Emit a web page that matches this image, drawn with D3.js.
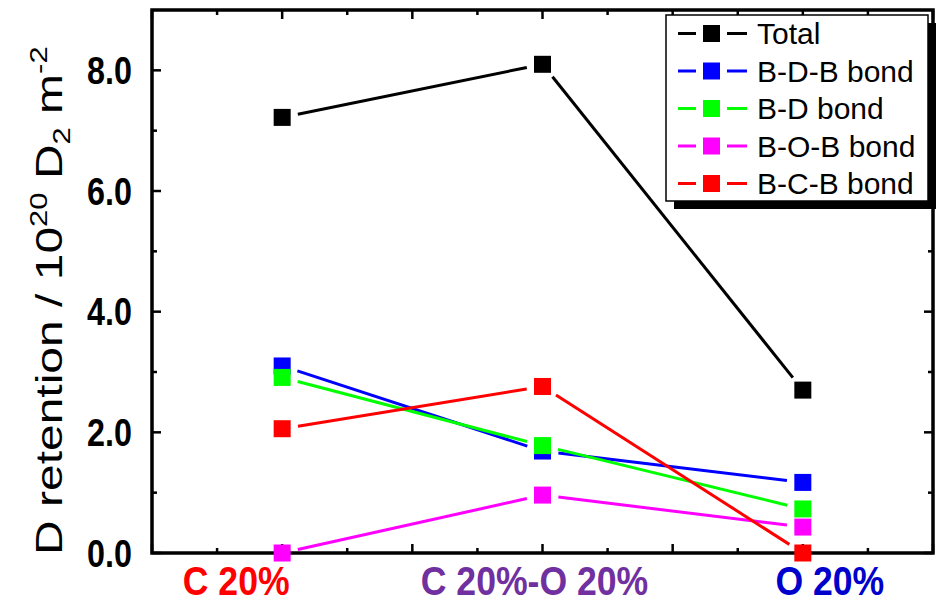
<!DOCTYPE html>
<html>
<head>
<meta charset="utf-8">
<script src="https://cdn.jsdelivr.net/npm/d3@7"></script>
<style>
  html, body { margin: 0; padding: 0; background: #fff; }
  svg { display: block; }
  text { font-family: "Liberation Sans", Arial, Helvetica, sans-serif; }
</style>
</head>
<body>
<svg id="chart" width="939" height="605"></svg>
<script>
// Sample categories and their positions on the numeric x axis
const categories = ["C 20%", "C 20%-O 20%", "O 20%"];
const categoryX = [1, 3, 5];
const categoryColors = ["#ff0000", "#7030a0", "#0000cc"];

// D retention (10^20 D2 m^-2) per series
const seriesNames = ["Total", "B-D-B bond", "B-D bond", "B-O-B bond", "B-C-B bond"];
const seriesColors = ["#000000", "#0000ff", "#00ff00", "#ff00ff", "#ff0000"];
const totalValues = [7.22, 8.10, 2.70];
const bdbValues = [3.10, 1.69, 1.17];
const bdValues = [2.91, 1.78, 0.73];
const bobValues = [0.00, 0.96, 0.43];
const bcbValues = [2.06, 2.76, 0.00];
const seriesValues = [totalValues, bdbValues, bdValues, bobValues, bcbValues];

// Axis tick labels
const yTickValues = [0, 2, 4, 6, 8];
const yTickLabels = ["0.0", "2.0", "4.0", "6.0", "8.0"];

// Layout
const frame = { left: 152, right: 933, top: 10, bottom: 553 };
const labelShift = [-46, -8, 27];   // horizontal nudge of category labels
const markerSize = 17;
const lineGap = 16;                  // distance from point centre where a segment stops

const svg = d3.select("#chart");
const x = d3.scaleLinear().domain([0, 6]).range([frame.left, frame.right]);
const y = d3.scaleLinear().domain([0, 9]).range([frame.bottom, frame.top]);

// Ticks (inward) on all four sides
const axW = 3.5;
const majorLen = 9, minorLen = 5;
const xMajor = d3.range(0, 6.01, 1), xMinor = d3.range(0.5, 6, 1);
const yMajor = d3.range(0, 9.01, 2), yMinor = d3.range(1, 9, 2);

const tickG = svg.append("g").attr("stroke", "#000").attr("stroke-width", 2.5);
function xTicks(vals, len) {
  vals.forEach(v => {
    tickG.append("line").attr("x1", x(v)).attr("x2", x(v))
      .attr("y1", frame.bottom).attr("y2", frame.bottom - len);
    tickG.append("line").attr("x1", x(v)).attr("x2", x(v))
      .attr("y1", frame.top).attr("y2", frame.top + len);
  });
}
function yTicks(vals, len) {
  vals.forEach(v => {
    tickG.append("line").attr("y1", y(v)).attr("y2", y(v))
      .attr("x1", frame.left).attr("x2", frame.left + len);
    tickG.append("line").attr("y1", y(v)).attr("y2", y(v))
      .attr("x1", frame.right).attr("x2", frame.right - len);
  });
}
xTicks(xMajor, majorLen); xTicks(xMinor, minorLen);
yTicks(yMajor, majorLen); yTicks(yMinor, minorLen);

// Frame
svg.append("rect")
  .attr("x", frame.left).attr("y", frame.top)
  .attr("width", frame.right - frame.left).attr("height", frame.bottom - frame.top)
  .attr("fill", "none").attr("stroke", "#000").attr("stroke-width", axW);

// Y tick labels (bold, slightly condensed)
yTickValues.forEach((v, i) => {
  svg.append("text")
    .attr("transform", `translate(132,${y(v)}) scale(0.85,1)`)
    .attr("text-anchor", "end").attr("dy", "0.36em")
    .attr("font-size", 38).attr("font-weight", "bold")
    .text(yTickLabels[i]);
});

// Category labels
categories.forEach((c, i) => {
  svg.append("text")
    .attr("transform", `translate(${x(categoryX[i]) + labelShift[i]},595) scale(0.89,1)`)
    .attr("text-anchor", "middle")
    .attr("font-size", 40).attr("font-weight", "bold")
    .attr("fill", categoryColors[i])
    .text(c);
});

// Y axis title
const yt = svg.append("text")
  .attr("transform", "translate(62,555) scale(0.78,1) rotate(-90)")
  .attr("font-size", 48);
yt.append("tspan").text("D retention / 10");
yt.append("tspan").attr("font-size", 31).attr("dy", -19).text("20");
yt.append("tspan").attr("dy", 19).text(" D");
yt.append("tspan").attr("font-size", 31).attr("dy", 10).text("2");
yt.append("tspan").attr("dy", -10).text(" m");
yt.append("tspan").attr("font-size", 31).attr("dy", -19).text("-2");

// Series: broken line segments between points, then square markers
const lineG = svg.append("g");
const markG = svg.append("g");
seriesValues.forEach((vals, s) => {
  const pts = vals.map((v, i) => [x(categoryX[i]), y(v)]);
  for (let i = 0; i < pts.length - 1; i++) {
    const [x0, y0] = pts[i], [x1, y1] = pts[i + 1];
    const len = Math.hypot(x1 - x0, y1 - y0);
    const ux = (x1 - x0) / len, uy = (y1 - y0) / len;
    lineG.append("line")
      .attr("x1", x0 + ux * lineGap).attr("y1", y0 + uy * lineGap)
      .attr("x2", x1 - ux * lineGap).attr("y2", y1 - uy * lineGap)
      .attr("stroke", seriesColors[s]).attr("stroke-width", 3);
  }
  markG.selectAll(null).data(pts).enter().append("rect")
    .attr("x", d => d[0] - markerSize / 2).attr("y", d => d[1] - markerSize / 2)
    .attr("width", markerSize).attr("height", markerSize)
    .attr("fill", seriesColors[s]);
});

// Legend with drop shadow
const lg = { x: 666, y: 15, w: 262, h: 186 };
svg.append("rect").attr("x", lg.x + 8).attr("y", lg.y + 8)
  .attr("width", lg.w).attr("height", lg.h).attr("fill", "#000");
svg.append("rect").attr("x", lg.x).attr("y", lg.y)
  .attr("width", lg.w).attr("height", lg.h)
  .attr("fill", "#fff").attr("stroke", "#000").attr("stroke-width", 1.5);
seriesNames.forEach((name, i) => {
  const cy = 33.5 + i * 37.5;
  const g = svg.append("g");
  g.append("line").attr("x1", 678).attr("x2", 696).attr("y1", cy).attr("y2", cy)
    .attr("stroke", seriesColors[i]).attr("stroke-width", 3);
  g.append("line").attr("x1", 727).attr("x2", 747).attr("y1", cy).attr("y2", cy)
    .attr("stroke", seriesColors[i]).attr("stroke-width", 3);
  g.append("rect").attr("x", 711.5 - markerSize / 2).attr("y", cy - markerSize / 2)
    .attr("width", markerSize).attr("height", markerSize).attr("fill", seriesColors[i]);
  g.append("text").attr("x", 757).attr("y", cy).attr("dy", "0.36em")
    .attr("font-size", 30).text(name);
});
</script>
</body>
</html>
